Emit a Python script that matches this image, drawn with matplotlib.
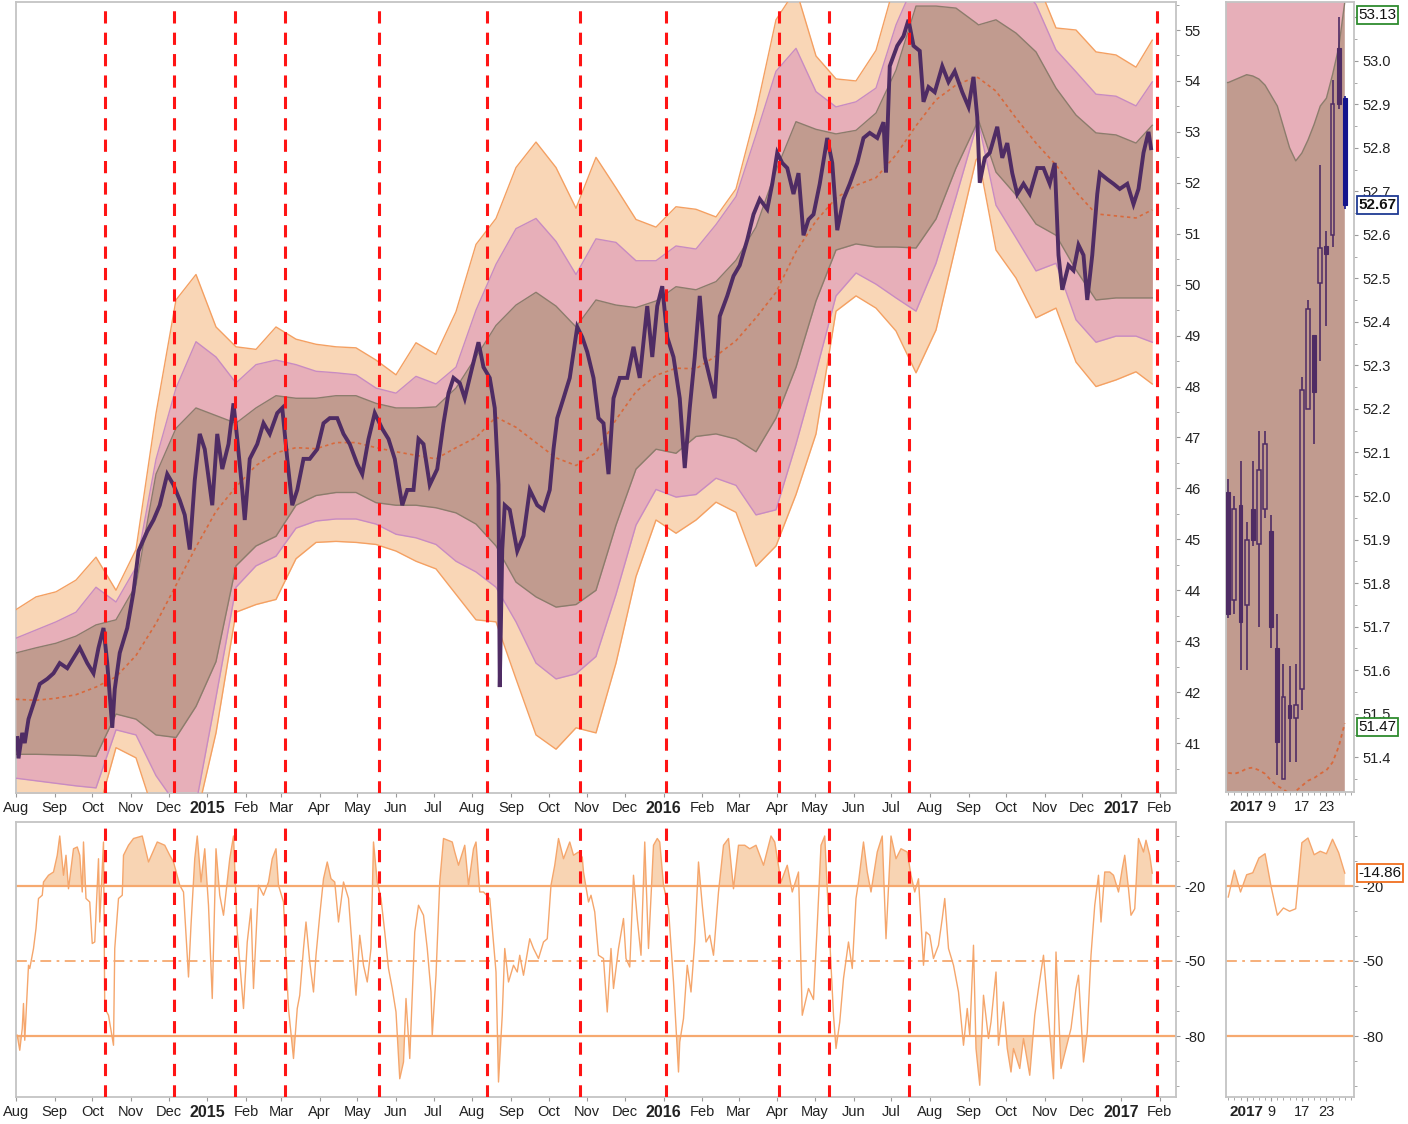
import numpy as np
import pandas as pd
import matplotlib
matplotlib.use("Agg")
import matplotlib.pyplot as plt
import matplotlib.dates as mdates
import matplotlib.transforms as mtransforms
from matplotlib.ticker import MultipleLocator
from matplotlib import font_manager as fm

# ---------------- data (days counted from START) ----------------
START = "2014-08-01"

price_day = [1, 2, 5, 7, 10, 14, 19, 25, 30, 35,
             41, 46, 51, 57, 62, 66, 70, 73, 77, 79,
             83, 89, 94, 98, 105, 110, 115, 121, 126, 131,
             135, 139, 143, 147, 151, 157, 161, 165, 170, 174,
             177, 181, 183, 187, 193, 198, 203, 209, 213, 217,
             221, 225, 230, 235, 241, 246, 251, 257, 262, 267,
             273, 277, 282, 287, 293, 298, 303, 309, 313, 318,
             322, 326, 331, 337, 342, 346, 350, 355, 359, 365,
             370, 374, 379, 383, 386, 387, 389, 391, 395, 401,
             406, 411, 417, 422, 427, 430, 433, 438, 443, 449,
             453, 457, 462, 466, 470, 474, 478, 483, 489, 494,
             499, 505, 509, 513, 517, 521, 526, 531, 535, 539,
             543, 547, 551, 555, 559, 563, 569, 574, 579, 585,
             590, 595, 601, 605, 609, 613, 617, 622, 626, 630,
             634, 638, 643, 649, 653, 657, 662, 667, 673, 678,
             683, 689, 694, 696, 699, 705, 710, 714, 718, 723,
             726, 730, 735, 741, 746, 751, 757, 762, 766, 769,
             771, 775, 779, 785, 789, 793, 797, 801, 806, 811,
             817, 822, 827, 831, 834, 837, 842, 846, 850, 854,
             857, 861, 865, 867, 873, 878, 883, 889, 894, 898,
             902, 906, 908]
price_val = [41.1, 40.7, 41.2, 41.0, 41.47, 41.77, 42.16, 42.26, 42.37, 42.57,
             42.47, 42.67, 42.87, 42.57, 42.37, 42.87, 43.26, 42.57, 41.3, 42.06,
             42.77, 43.26, 43.97, 44.77, 45.16, 45.38, 45.67, 46.28, 46.07, 45.77,
             45.48, 44.8, 46.16, 47.07, 46.77, 45.67, 47.07, 46.38, 46.87, 47.67,
             46.97, 45.97, 45.38, 46.58, 46.87, 47.28, 47.07, 47.48, 47.58, 46.58,
             45.67, 45.97, 46.58, 46.58, 46.77, 47.28, 47.38, 47.38, 47.07, 46.87,
             46.48, 46.28, 46.97, 47.48, 47.17, 46.97, 46.58, 45.67, 45.97, 45.97,
             46.97, 46.87, 46.07, 46.38, 47.28, 47.87, 48.17, 48.07, 47.77, 48.38,
             48.87, 48.38, 48.17, 47.58, 46.07, 42.1, 44.8, 45.67, 45.58, 44.77,
             45.07, 45.97, 45.67, 45.58, 45.97, 46.77, 47.38, 47.77, 48.17, 49.17,
             48.97, 48.68, 48.17, 47.38, 47.28, 46.28, 47.77, 48.17, 48.17, 48.78,
             48.17, 49.58, 48.58, 49.58, 49.97, 48.97, 48.58, 47.77, 46.4, 47.58,
             48.58, 49.78, 48.58, 48.17, 47.77, 49.38, 49.78, 50.17, 50.38, 50.88,
             51.38, 51.68, 51.48, 51.98, 52.59, 52.39, 52.29, 51.78, 52.19, 50.97,
             51.28, 51.38, 51.98, 52.88, 52.39, 51.07, 51.68, 51.98, 52.39, 52.88,
             52.98, 52.88, 53.19, 52.2, 54.29, 54.69, 54.88, 55.2, 54.69, 54.59,
             53.59, 53.88, 53.78, 54.29, 53.98, 54.19, 53.78, 53.49, 54.08, 53.29,
             52.0, 52.49, 52.59, 53.1, 52.49, 52.78, 52.19, 51.78, 51.98, 51.78,
             52.29, 52.29, 51.98, 52.39, 50.58, 49.9, 50.38, 50.28, 50.78, 50.58,
             49.7, 50.58, 51.78, 52.19, 52.07, 51.98, 51.88, 51.98, 51.58, 51.88,
             52.59, 53.0, 52.68]

band_day = [0, 16, 32, 48, 64, 80, 96, 112, 128, 144,
            160, 176, 192, 208, 224, 240, 256, 272, 288, 304,
            320, 336, 352, 368, 384, 400, 416, 432, 448, 464,
            480, 496, 512, 528, 544, 560, 576, 592, 608, 624,
            640, 656, 672, 688, 704, 720, 736, 752, 768, 770,
            784, 800, 816, 832, 848, 864, 880, 896, 909]
band_mid = [41.86, 41.84, 41.88, 41.95, 42.1, 42.3, 42.72, 43.35, 44.1, 44.85,
            45.55, 46.03, 46.45, 46.7, 46.8, 46.78, 46.9, 46.9, 46.8, 46.72,
            46.65, 46.58, 46.8, 47.0, 47.4, 47.2, 46.9, 46.6, 46.45, 46.7,
            47.35, 47.9, 48.22, 48.36, 48.35, 48.6, 48.9, 49.35, 49.85, 50.65,
            51.25, 51.7, 51.95, 52.1, 52.55, 53.12, 53.63, 53.92, 54.08, 54.06,
            53.8, 53.27, 52.78, 52.35, 51.82, 51.39, 51.35, 51.31, 51.47]
brown_top = [42.77, 42.87, 42.96, 43.1, 43.32, 43.42, 44.1, 46.28, 47.18, 47.58,
             47.43, 47.28, 47.58, 47.82, 47.77, 47.77, 47.82, 47.82, 47.67, 47.58,
             47.58, 47.6, 47.97, 48.58, 49.2, 49.6, 49.85, 49.58, 49.17, 49.7,
             49.6, 49.55, 49.68, 49.96, 49.9, 50.06, 50.48, 51.13, 52.24, 53.2,
             53.05, 52.96, 53.03, 53.37, 54.21, 55.47, 55.47, 55.43, 55.14, 55.1,
             55.2, 54.94, 54.57, 53.86, 53.33, 52.98, 52.94, 52.78, 53.13]
brown_bot = [40.78, 40.78, 40.77, 40.76, 40.74, 41.57, 41.47, 41.16, 41.11, 41.72,
             42.6, 44.48, 44.87, 45.06, 45.67, 45.86, 45.92, 45.92, 45.72, 45.67,
             45.67, 45.62, 45.52, 45.3, 44.87, 44.16, 43.87, 43.67, 43.72, 44.0,
             45.28, 46.38, 46.77, 46.69, 47.02, 47.07, 46.97, 46.72, 47.38, 48.38,
             49.68, 50.68, 50.8, 50.74, 50.74, 50.72, 51.29, 52.29, 53.13, 53.23,
             52.21, 51.76, 51.19, 50.97, 50.29, 49.7, 49.74, 49.74, 49.74]
pink_top = [43.06, 43.22, 43.38, 43.57, 44.06, 43.77, 44.45, 46.57, 47.97, 48.88,
            48.58, 48.07, 48.43, 48.52, 48.43, 48.3, 48.27, 48.23, 47.97, 47.87,
            48.2, 48.05, 48.38, 49.5, 50.4, 51.1, 51.3, 50.85, 50.2, 50.9,
            50.83, 50.47, 50.47, 50.76, 50.7, 51.18, 51.73, 52.94, 54.19, 54.64,
            53.79, 53.49, 53.59, 53.86, 55.1, 56.0, 56.0, 56.0, 56.0, 56.0,
            56.0, 56.0, 55.5, 54.61, 54.18, 53.74, 53.7, 53.51, 53.98]
pink_bot = [40.31, 40.26, 40.21, 40.16, 40.12, 41.26, 41.16, 40.36, 39.8, 39.8,
            41.9, 44.06, 44.48, 44.67, 45.22, 45.36, 45.4, 45.4, 45.3, 45.1,
            45.03, 44.9, 44.57, 44.36, 44.06, 43.38, 42.57, 42.26, 42.36, 42.7,
            43.92, 45.28, 45.98, 45.83, 45.88, 46.2, 46.06, 45.48, 45.58, 46.87,
            48.28, 49.78, 50.23, 50.01, 49.74, 49.48, 50.42, 51.72, 53.08, 53.19,
            51.56, 50.92, 50.27, 50.42, 49.31, 48.87, 48.99, 48.99, 48.87]
orange_top = [43.62, 43.87, 43.97, 44.2, 44.65, 44.0, 44.8, 47.47, 49.7, 50.2,
              49.17, 48.78, 48.73, 49.17, 48.93, 48.83, 48.78, 48.76, 48.52, 48.23,
              48.86, 48.63, 49.47, 50.79, 51.3, 52.3, 52.8, 52.3, 51.5, 52.5,
              51.9, 51.28, 51.13, 51.53, 51.48, 51.33, 51.88, 53.39, 55.2, 55.8,
              54.49, 54.04, 54.0, 54.6, 56.0, 56.0, 56.0, 56.0, 56.0, 56.0,
              56.0, 56.0, 56.0, 55.04, 55.0, 54.57, 54.51, 54.27, 54.8]
orange_bot = [39.5, 39.5, 39.5, 39.5, 39.5, 40.91, 40.71, 39.5, 39.5, 39.5,
              41.2, 43.57, 43.72, 43.82, 44.62, 44.94, 44.96, 44.94, 44.9, 44.77,
              44.57, 44.42, 43.92, 43.42, 43.38, 42.26, 41.16, 40.88, 41.3, 41.2,
              42.57, 44.27, 45.38, 45.12, 45.38, 45.73, 45.53, 44.47, 44.87, 45.88,
              47.07, 49.48, 49.78, 49.54, 49.09, 48.27, 49.11, 50.78, 52.45, 52.5,
              50.68, 50.13, 49.35, 49.54, 48.48, 48.0, 48.13, 48.29, 48.05]

wr_day = [1, 3, 5, 6, 7, 10, 11, 14, 16, 18,
          21, 22, 26, 30, 33, 35, 38, 40, 42, 46,
          49, 51, 53, 54, 56, 59, 61, 63, 66, 67,
          70, 71, 74, 78, 79, 82, 85, 86, 90, 94,
          101, 106, 113, 119, 123, 126, 131, 134, 138, 140,
          143, 145, 148, 151, 154, 157, 160, 163, 166, 171,
          174, 177, 182, 185, 188, 190, 194, 198, 202, 205,
          208, 210, 214, 216, 218, 222, 225, 227, 230, 232,
          235, 238, 240, 243, 246, 249, 252, 255, 258, 262,
          266, 269, 272, 275, 278, 281, 284, 286, 289, 292,
          295, 298, 301, 304, 307, 310, 312, 315, 319, 322,
          326, 329, 332, 333, 336, 339, 342, 349, 351, 354,
          359, 362, 366, 368, 371, 374, 379, 384, 386, 389,
          391, 394, 398, 401, 403, 406, 411, 414, 418, 422,
          425, 428, 431, 434, 438, 443, 446, 450, 453, 454,
          458, 460, 463, 466, 470, 473, 476, 478, 482, 486,
          488, 491, 494, 497, 500, 503, 506, 510, 513, 515,
          518, 522, 526, 530, 531, 534, 537, 540, 543, 546,
          549, 552, 555, 558, 562, 566, 570, 574, 578, 583,
          587, 592, 598, 604, 607, 612, 617, 621, 626, 629,
          634, 638, 641, 644, 647, 650, 654, 656, 659, 662,
          666, 669, 672, 674, 678, 681, 684, 689, 693, 696,
          700, 704, 708, 713, 716, 719, 722, 726, 728, 731,
          734, 738, 741, 743, 746, 750, 754, 758, 761, 763,
          766, 768, 771, 774, 778, 780, 784, 786, 790, 793,
          796, 798, 803, 806, 811, 815, 818, 822, 825, 830,
          832, 836, 840, 844, 848, 850, 854, 857, 860, 863,
          866, 868, 871, 875, 878, 882, 885, 887, 890, 892,
          895, 898, 902, 904, 907, 909]
wr_val = [-79.7, -85.7, -77, -67, -81.7, -51.7, -53, -45, -37, -25,
          -23.7, -18.4, -15.7, -14.4, -7.7, 0, -15.7, -7.7, -21.1, -5.1,
          -4.4, -7.7, -22.4, -2.4, -25, -26.4, -43, -42.4, -9.1, -34.4,
          -2.4, -69, -71.7, -83.7, -45, -25, -23.7, -7.7, -3.7, -1,
          0, -10.4, -2.4, -3.7, -7.7, -10.4, -19.7, -22.4, -56.4, -35.7,
          -9.1, 0, -18.4, -5.1, -27.7, -65, -5.1, -23.7, -31.7, -9.1,
          0, -38.4, -69, -42.4, -29.1, -61, -19.7, -23.7, -18.4, -9.1,
          -5.1, -19.7, -26.4, -49, -69, -89, -69, -63.7, -45, -34.4,
          -50.4, -62.4, -47.7, -31.7, -17.1, -10.4, -17.1, -18.4, -34.4, -18.4,
          -25, -45, -63.7, -39.7, -51.7, -58.4, -45, -2.4, -18.4, -25,
          -38.4, -53, -61, -70.4, -97.1, -90.4, -65, -89, -38.4, -27.7,
          -31.7, -45, -62.4, -79.7, -55.7, -18.4, -1, -2.4, -6.4, -11.7,
          -3.7, -19.7, -5.1, -2.4, -22.4, -22.4, -25, -54.4, -98.4, -71.7,
          -45, -58.4, -51.7, -54.4, -47.7, -55.7, -41.1, -45, -49, -42.4,
          -41.1, -19.7, -11.7, -1, -9.1, -2.4, -7.7, -6.4, -8.5, -14.4,
          -26.4, -23.7, -30.4, -47.7, -49, -70.4, -45, -61, -45, -33,
          -49, -52.4, -15.7, -33, -47.7, -2.4, -45, -3.7, -1, -2.4,
          -19.7, -29.1, -58.4, -94.4, -82.4, -73, -51.7, -62.4, -42.4, -10.4,
          -27.7, -42.4, -39.7, -47.7, -22.4, -3.7, -1, -21.1, -3.7, -3.7,
          -5.1, -3.7, -11.7, 0, -2.4, -18.4, -11.7, -22.4, -14.4, -71.7,
          -61, -65.4, -35.7, -3.7, 0, -31.7, -71.7, -85, -74.4, -57,
          -42.4, -53, -25, -18.4, -2.4, -14.4, -22.4, -6.4, 0, -41.1,
          0, -9.1, -5.1, -6.4, -15.7, -22.4, -17.1, -51.7, -38.4, -39.7,
          -49, -43.7, -33, -25, -45, -51.7, -62.4, -83.7, -69, -79.7,
          -43.7, -85, -99.7, -63.7, -81, -74.4, -54.4, -83.7, -66.4, -85,
          -94.4, -85, -93, -81, -95.7, -71.7, -61, -47.7, -66.4, -97.1,
          -46.4, -93, -85, -77, -61, -55.7, -90.4, -78.4, -47.7, -27.7,
          -15.7, -34.4, -14.4, -14.4, -15.7, -22.4, -13.1, -7.7, -21.1, -31.7,
          -29.1, -1, -6.4, -1.7, -7.7, -14.86]

event_day = [71, 126, 175, 215, 290, 377, 451, 520, 610, 650, 714, 913]

# zoom panel (last 20 sessions)
zoom_open = [52.01, 51.76, 51.98, 51.75, 51.97, 51.89, 51.97, 51.92, 51.65, 51.35,
             51.52, 51.49, 51.556, 52.20, 52.37, 52.49, 52.575, 52.60, 53.03, 52.914]
zoom_close = [51.73, 51.97, 51.71, 51.90, 51.90, 52.06, 52.12, 51.70, 51.436, 51.538,
              51.49, 51.52, 52.244, 52.43, 52.24, 52.57, 52.555, 52.90, 52.90, 52.668]
zoom_high = [52.04, 52.0, 52.08, 51.94, 52.08, 52.15, 52.15, 51.956, 51.73, 51.615,
             51.61, 51.615, 52.274, 52.45, 52.37, 52.76, 52.61, 52.956, 53.10, 52.92]
zoom_low = [51.72, 51.73, 51.60, 51.60, 51.885, 51.70, 51.95, 51.65, 51.36, 51.35,
            51.39, 51.39, 51.508, 52.20, 52.12, 52.31, 52.39, 52.573, 52.89, 52.66]
zoom_bt = [52.95, 52.956, 52.962, 52.968, 52.965, 52.958, 52.944, 52.92, 52.896, 52.848,
           52.80, 52.77, 52.788, 52.818, 52.854, 52.896, 52.914, 52.968, 53.03, 53.135]
zoom_mid = [51.364, 51.362, 51.366, 51.374, 51.376, 51.37, 51.362, 51.346, 51.334, 51.326,
            51.316, 51.322, 51.334, 51.346, 51.352, 51.362, 51.37, 51.388, 51.424, 51.478]
zoom_wr = [-24.4, -13.7, -22.4, -15.5, -14.7, -8.8, -7.1, -20.4, -31.7, -28.8,
           -30.1, -29.1, -2.7, -0.8, -7.5, -6.1, -7.1, -1.3, -6.7, -14.86]
zoom_tick_idx = [3, 7, 12, 16]
zoom_tick_lab = ["2017", "9", "17", "23"]

# ---------------- style ----------------
avail = {f.name for f in fm.fontManager.ttflist}
FONT = "DejaVu Sans"
for cand in ("Liberation Sans Narrow", "Liberation Sans", "Roboto"):
    if cand in avail:
        FONT = cand
        break
plt.rcParams["font.family"] = [FONT, "DejaVu Sans"]

ORANGE_F, ORANGE_E = "#F9D6B6", "#F4A062"
PINK_F, PINK_E = "#E7AFB9", "#C88BC2"
BROWN_F, BROWN_E = "#C19B8F", "#8C7C6C"
PRICE = "#4F2C64"
MID = "#D8693C"
RED = "#FF1414"
WR_L, WR_F, TH = "#F5A66C", "#F8D4B3", "#F6A96F"
SPINE = "#C4C4C4"
TXT = "#222222"
LSIZE = 10.5

W, H = 1408, 1124
fig = plt.figure(figsize=(W / 100, H / 100), dpi=100)
fig.patch.set_facecolor("white")


def rect(l, t, r, b):
    return [l / W, 1 - b / H, (r - l) / W, (b - t) / H]


base = mdates.date2num(pd.Timestamp(START).to_pydatetime())


def dn(days):
    return base + np.asarray(days, dtype=float)


ax = fig.add_axes(rect(16, 2, 1176, 793))
osc = fig.add_axes(rect(16, 822, 1176, 1097))
zx = fig.add_axes(rect(1225.5, 2, 1354, 792))
zosc = fig.add_axes(rect(1225.5, 822, 1354, 1097))

for a in (ax, osc, zx, zosc):
    for s in a.spines.values():
        s.set_color(SPINE)
        s.set_linewidth(1.3)
    a.yaxis.tick_right()
    a.tick_params(axis="both", which="both", colors="#9A9A9A", labelcolor=TXT,
                  labelsize=LSIZE, direction="out")
    a.tick_params(axis="both", which="major", length=3, pad=3)
    a.tick_params(axis="both", which="minor", length=2)

# ---------------- main price panel ----------------
bd = dn(band_day)
ax.fill_between(bd, orange_bot, orange_top, color=ORANGE_F, lw=0, zorder=1)
ax.fill_between(bd, pink_bot, pink_top, color=PINK_F, lw=0, zorder=2)
ax.fill_between(bd, brown_bot, brown_top, color=BROWN_F, lw=0, zorder=3)
for arr, c in ((orange_top, ORANGE_E), (orange_bot, ORANGE_E),
               (pink_top, PINK_E), (pink_bot, PINK_E),
               (brown_top, BROWN_E), (brown_bot, BROWN_E)):
    ax.plot(bd, arr, color=c, lw=1.0, zorder=4)
ax.plot(bd, band_mid, color=MID, lw=1.2, ls=(0, (2, 2)), zorder=5)
ax.plot(dn(price_day), price_val, color=PRICE, lw=2.8, zorder=6, solid_joinstyle="miter")
for d in event_day:
    ax.axvline(dn(d), color=RED, lw=2.2, ls=(0, (4, 3)), zorder=8)
ax.set_ylim(40.02, 55.55)
ax.set_yticks(range(41, 56))
ax.yaxis.set_minor_locator(MultipleLocator(0.5))

# ---------------- oscillator ----------------
wd = dn(wr_day)
wv = np.asarray(wr_val, dtype=float)
osc.fill_between(wd, wv, -20, where=wv > -20, interpolate=True, color=WR_F, lw=0, zorder=1)
osc.fill_between(wd, wv, -80, where=wv < -80, interpolate=True, color=WR_F, lw=0, zorder=1)
osc.axhline(-20, color=TH, lw=1.6, zorder=2)
osc.axhline(-80, color=TH, lw=1.6, zorder=2)
osc.axhline(-50, color=TH, lw=1.3, ls=(0, (6, 3, 1.5, 3)), zorder=2)
osc.plot(wd, wv, color=WR_L, lw=1.0, zorder=3)
for d in event_day:
    osc.axvline(dn(d), color=RED, lw=2.2, ls=(0, (4, 3)), zorder=8)
osc.set_ylim(-104.4, 5.6)
osc.set_yticks([-80, -50, -20])
osc.set_yticklabels(["-80", "-50", "-20"])
osc.yaxis.set_minor_locator(MultipleLocator(10))

months = pd.date_range("2014-08-01", "2017-02-01", freq="MS")
mpos = mdates.date2num(months.to_pydatetime())
mlab = [str(m.year) if m.month == 1 else m.strftime("%b") for m in months]
for a in (ax, osc):
    a.set_xlim(dn(0), dn(928))
    a.set_xticks(mpos)
    a.set_xticklabels(mlab)
    for t, m in zip(a.get_xticklabels(), months):
        if m.month == 1:
            t.set_fontweight("bold")
            t.set_fontsize(11.5)

# ---------------- zoom candle panel ----------------
zi = np.arange(len(zoom_open))
xfill = np.r_[-0.45, zi]
btfill = np.r_[zoom_bt[0], zoom_bt]
zx.fill_between(xfill, btfill, 60, color=PINK_F, lw=0, zorder=1)
zx.fill_between(xfill, 40, btfill, color=BROWN_F, lw=0, zorder=1)
zx.plot(xfill, btfill, color=BROWN_E, lw=1.0, zorder=2)
zx.plot(zi, zoom_mid, color=MID, lw=1.3, ls=(0, (2, 2)), zorder=2)
for i, (o, h, l, c) in enumerate(zip(zoom_open, zoom_high, zoom_low, zoom_close)):
    col = "#14148C" if i == len(zi) - 1 else PRICE
    zx.vlines(i, l, h, color=col, lw=1.2, zorder=3)
    lo, hi = min(o, c), max(o, c)
    if c >= o:
        zx.bar(i, hi - lo, bottom=lo, width=0.62, facecolor=BROWN_F, edgecolor=col,
               lw=1.1, zorder=4)
    else:
        zx.bar(i, hi - lo, bottom=lo, width=0.62, facecolor=col, edgecolor=col,
               lw=0.8, zorder=4)
zx.set_ylim(51.32, 53.135)
zx.set_xlim(-0.45, 20.5)
yt = np.round(np.arange(51.4, 53.11, 0.1), 1)
zx.set_yticks(yt)
# the 53.1 label sits under the 53.13 value tag (as in the original)
zx.set_yticklabels([f"{v:.1f}" if v < 53.05 else "" for v in yt])
zx.yaxis.set_minor_locator(MultipleLocator(0.05))

zv = np.asarray(zoom_wr, dtype=float)
zosc.fill_between(zi, zv, -20, where=zv > -20, interpolate=True, color=WR_F, lw=0, zorder=1)
zosc.axhline(-20, color=TH, lw=1.6, zorder=2)
zosc.axhline(-80, color=TH, lw=1.6, zorder=2)
zosc.axhline(-50, color=TH, lw=1.3, ls=(0, (6, 3, 1.5, 3)), zorder=2)
zosc.plot(zi, zv, color=WR_L, lw=1.0, zorder=3)
zosc.set_ylim(-104.4, 5.6)
zosc.set_xlim(-0.45, 20.5)
zosc.set_yticks([-80, -50, -20])
zosc.set_yticklabels(["-80", "-50", "-20"])
zosc.yaxis.set_minor_locator(MultipleLocator(10))

for a in (zx, zosc):
    a.set_xticks(zoom_tick_idx)
    a.set_xticklabels(zoom_tick_lab)
    a.xaxis.set_minor_locator(MultipleLocator(1))
    lab0 = a.get_xticklabels()[0]
    lab0.set_fontweight("bold")
    lab0.set_fontsize(11)


# value tags
def tag(a, y, txt, ec, bold=False):
    tr = mtransforms.blended_transform_factory(a.transAxes, a.transData)
    a.text(1.035, y, txt, transform=tr, ha="left", va="center", fontsize=11,
           fontweight="bold" if bold else "normal", color="#111111",
           bbox=dict(boxstyle="square,pad=0.12", fc="white", ec=ec, lw=1.3),
           zorder=20, clip_on=False)


tag(zx, 53.105, "53.13", "#2E8B2E")
tag(zx, zoom_close[-1], f"{zoom_close[-1]:.2f}", "#1F3A93", bold=True)
tag(zx, 51.47, "51.47", "#2E8B2E")
tag(zosc, zoom_wr[-1], f"{zoom_wr[-1]:.2f}", "#F07020")

fig.savefig("out.png", dpi=100, facecolor="white")
